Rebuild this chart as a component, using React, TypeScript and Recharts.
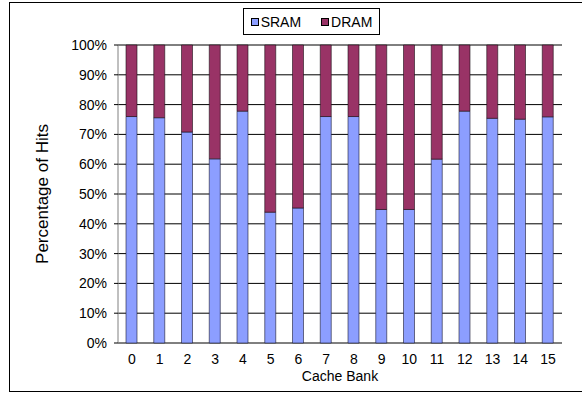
import { BarChart, Bar, XAxis, YAxis, CartesianGrid, Legend, ReferenceLine } from 'recharts';

const banks = ['0', '1', '2', '3', '4', '5', '6', '7', '8', '9', '10', '11', '12', '13', '14', '15'];
const sramHits = [76, 75.6, 70.8, 61.8, 77.8, 43.9, 45.3, 76, 76, 44.8, 44.8, 61.7, 77.8, 75.4, 75.1, 75.9];
const dramHits = [24, 24.4, 29.2, 38.2, 22.2, 56.1, 54.7, 24, 24, 55.2, 55.2, 38.3, 22.2, 24.6, 24.9, 24.1];
const percentTicks = [0, 10, 20, 30, 40, 50, 60, 70, 80, 90, 100];
// limites entre as categorias, para os tracinhos do eixo X
const bankEdges = [0, 1, 2, 3, 4, 5, 6, 7, 8, 9, 10, 11, 12, 13, 14, 15, 16];

const SRAM_COLOR = '#8c9eff';
const DRAM_COLOR = '#993366';
const FONT = '"Liberation Sans", Arial, sans-serif';

const data = banks.map((bank, i) => ({
  bank,
  SRAM: sramHits[i],
  DRAM: dramHits[i],
}));

const LegendBox = () => (
  <div
    style={{
      boxSizing: 'border-box',
      width: '100%',
      height: '100%',
      border: '1px solid #000',
      background: '#fff',
      display: 'flex',
      alignItems: 'center',
      justifyContent: 'center',
      gap: 20,
      fontFamily: FONT,
      fontSize: 14,
      color: '#000',
    }}
  >
    {[
      { name: 'SRAM', color: SRAM_COLOR },
      { name: 'DRAM', color: DRAM_COLOR },
    ].map(item => (
      <div key={item.name} style={{ display: 'flex', alignItems: 'center', gap: 2 }}>
        <span
          style={{
            display: 'inline-block',
            width: 6,
            height: 6,
            background: item.color,
            border: '1px solid #000',
          }}
        />
        <span>{item.name}</span>
      </div>
    ))}
  </div>
);

export default function App() {
  return (
    <div style={{ position: 'relative', width: 582, height: 394, background: '#fff', overflow: 'hidden' }}>
      <style>{'body { margin: 0; }'}</style>
      <div
        style={{
          position: 'absolute',
          boxSizing: 'border-box',
          left: 9,
          top: 2,
          width: 600,
          height: 390,
          border: '1px solid #000',
        }}
      />
      <BarChart
        width={582}
        height={394}
        data={data}
        margin={{ top: 45, right: 20, bottom: 1, left: 20 }}
        barSize={11}
        style={{ position: 'absolute', left: 0, top: 0 }}
      >
        <CartesianGrid vertical={false} stroke="#000" />
        <XAxis
          xAxisId="edges"
          type="number"
          domain={[0, 16]}
          ticks={bankEdges}
          tick={false}
          tickSize={4}
          height={4}
          axisLine={false}
          tickLine={{ stroke: '#000' }}
          allowDataOverflow
        />
        <XAxis
          dataKey="bank"
          height={46}
          tickSize={0}
          tickMargin={11}
          tickLine={false}
          axisLine={false}
          interval={0}
          tick={{ fill: '#000', fontSize: 14, fontFamily: FONT }}
          label={{
            value: 'Cache Bank',
            position: 'insideBottom',
            offset: 8,
            fill: '#000',
            fontSize: 14,
            fontFamily: FONT,
          }}
        />
        <YAxis
          width={98}
          domain={[0, 100]}
          ticks={percentTicks}
          interval={0}
          tickSize={4}
          tickMargin={7}
          tickFormatter={(v: number) => `${v}%`}
          axisLine={{ stroke: '#808080' }}
          tickLine={{ stroke: '#000' }}
          tick={{ fill: '#000', fontSize: 14, fontFamily: FONT }}
          label={{
            value: 'Percentage of Hits',
            angle: -90,
            position: 'insideLeft',
            offset: 22,
            fill: '#000',
            fontSize: 17,
            fontFamily: FONT,
            style: { textAnchor: 'middle' },
          }}
        />
        <ReferenceLine xAxisId="edges" x={16} stroke="#c0c0c0" strokeWidth={2} />
        <Legend
          layout="horizontal"
          verticalAlign="middle"
          align="center"
          content={<LegendBox />}
          wrapperStyle={{ top: 8, left: 243, width: 137, height: 27 }}
        />
        <Bar dataKey="SRAM" stackId="hits" fill={SRAM_COLOR} stroke="#1a1a33" strokeWidth={0.6} isAnimationActive={false} />
        <Bar dataKey="DRAM" stackId="hits" fill={DRAM_COLOR} stroke="#1a0d14" strokeWidth={0.6} isAnimationActive={false} />
      </BarChart>
    </div>
  );
}
